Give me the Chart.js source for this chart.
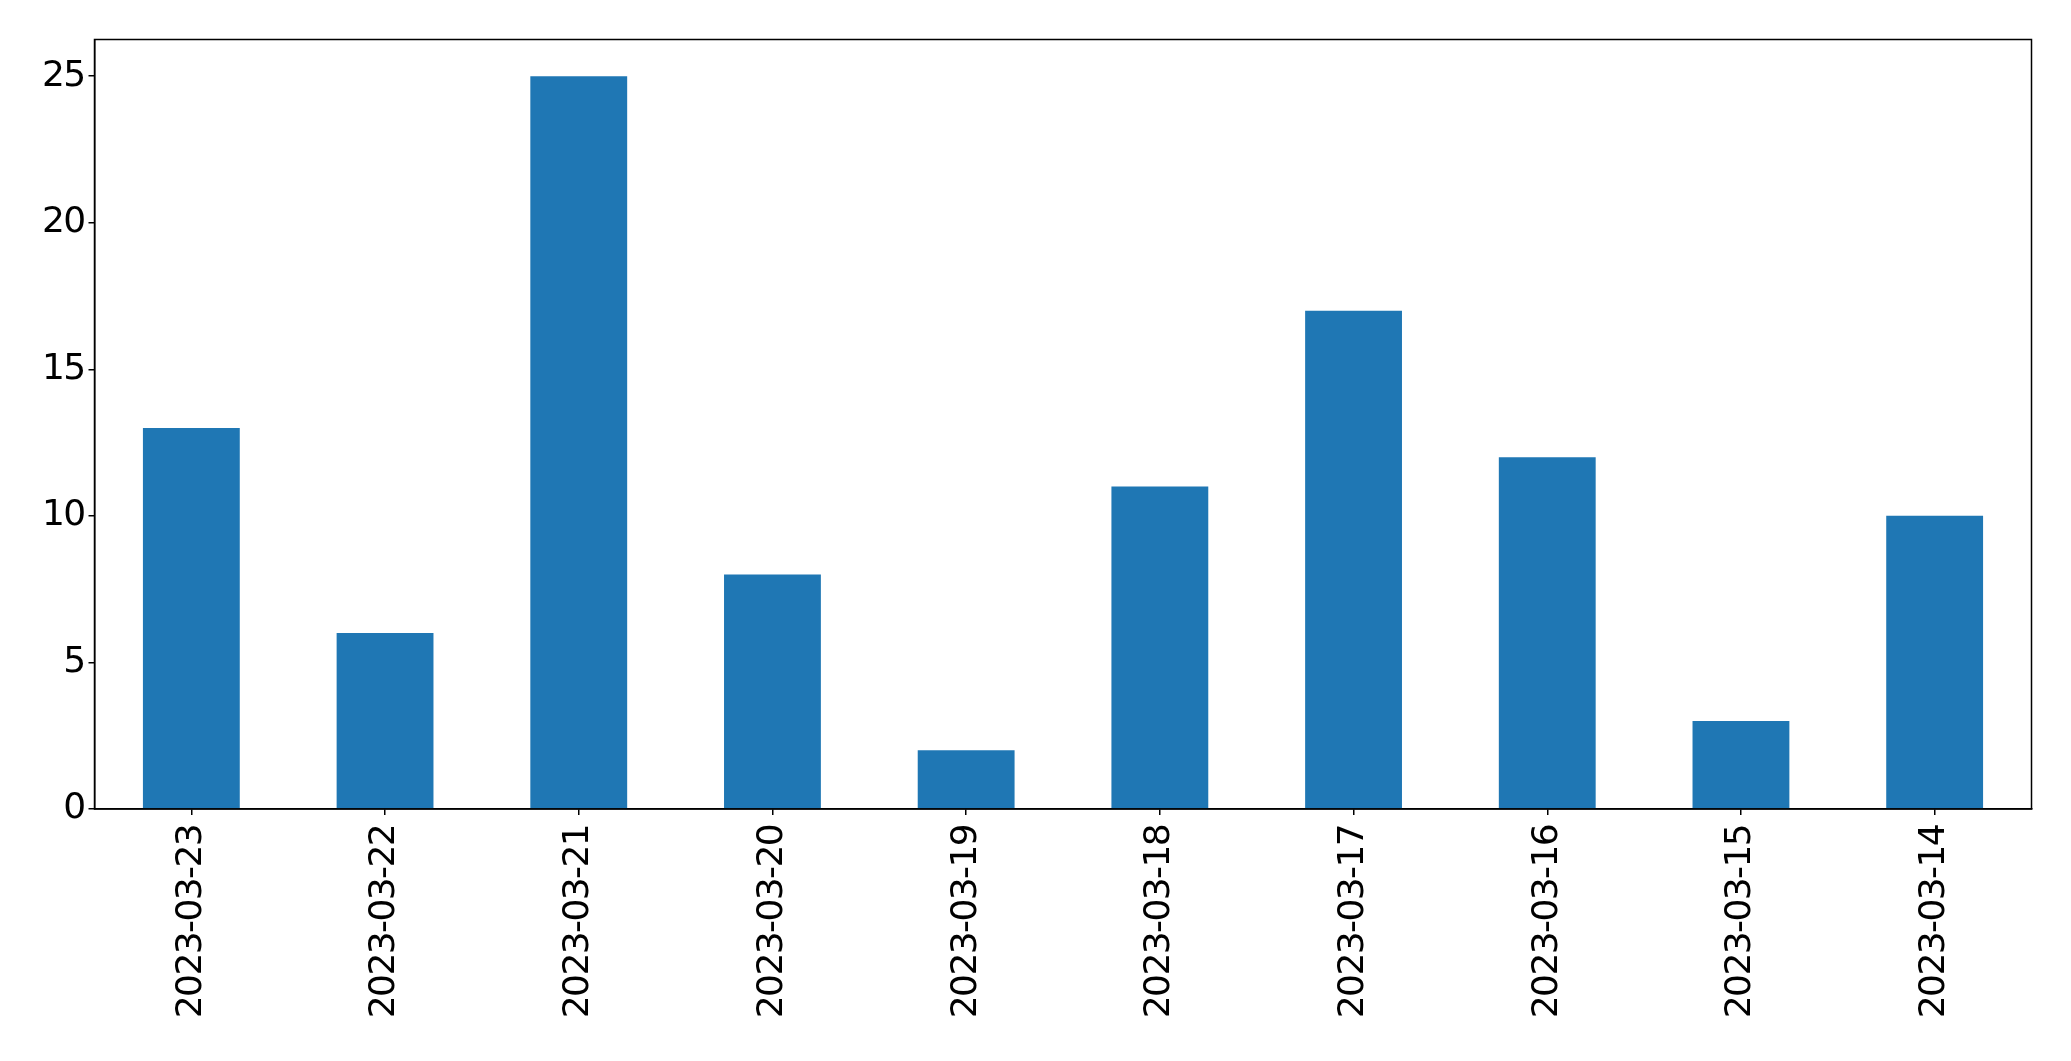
<!DOCTYPE html>
<html>
<head>
<meta charset="utf-8">
<script src="https://cdn.jsdelivr.net/npm/chart.js@4/dist/chart.umd.min.js"></script>
<style>
html,body{margin:0;padding:0;background:#fff;}
#wrap{width:2071px;height:1061px;}
</style>
</head>
<body>
<div id="wrap"><canvas id="c" width="2071" height="1061"></canvas></div>
<script>
const categories = ["2023-03-23","2023-03-22","2023-03-21","2023-03-20","2023-03-19","2023-03-18","2023-03-17","2023-03-16","2023-03-15","2023-03-14"];
const values = [13, 6, 25, 8, 2, 11, 17, 12, 3, 10];
const yTickStep = 5;
const yMax = 26.25;

const framePlugin = {
  id: 'frame',
  beforeDraw(chart) {
    chart.ctx.letterSpacing = '-1.6px';
  },
  afterDatasetsDraw(chart) {
    const a = chart.chartArea, ctx = chart.ctx;
    ctx.save();
    ctx.strokeStyle = '#000';
    ctx.lineWidth = 1.5;
    ctx.strokeRect(a.left, a.top, a.right - a.left, a.bottom - a.top);
    ctx.restore();
  }
};

const FONT = {family: 'DejaVu Sans', size: 36};

new Chart(document.getElementById('c'), {
  type: 'bar',
  data: {
    labels: categories,
    datasets: [{
      data: values,
      backgroundColor: '#1f77b4',
      borderWidth: 0,
      barPercentage: 0.5,
      categoryPercentage: 1.0
    }]
  },
  options: {
    responsive: false,
    animation: false,
    devicePixelRatio: 1,
    layout: {padding: {top: 39.5, right: 39.5, left: 0, bottom: 0}},
    plugins: {legend: {display: false}, tooltip: {enabled: false}},
    scales: {
      x: {
        offset: true,
        grid: {display: true, drawOnChartArea: false, offset: false, tickLength: 6, color: '#000', lineWidth: 1.5},
        border: {display: true, color: '#000', width: 1.5},
        ticks: {color: '#000', font: FONT, minRotation: 90, maxRotation: 90, autoSkip: false, padding: 10},
        afterFit(s) { s.height = 252; }
      },
      y: {
        min: 0,
        max: yMax,
        grid: {display: true, drawOnChartArea: false, tickLength: 6, color: '#000', lineWidth: 1.5},
        border: {display: true, color: '#000', width: 1.5},
        ticks: {color: '#000', font: FONT, stepSize: yTickStep, includeBounds: false, padding: 4},
        afterFit(s) { s.width = 94.5; }
      }
    }
  },
  plugins: [framePlugin]
});
</script>
</body>
</html>
